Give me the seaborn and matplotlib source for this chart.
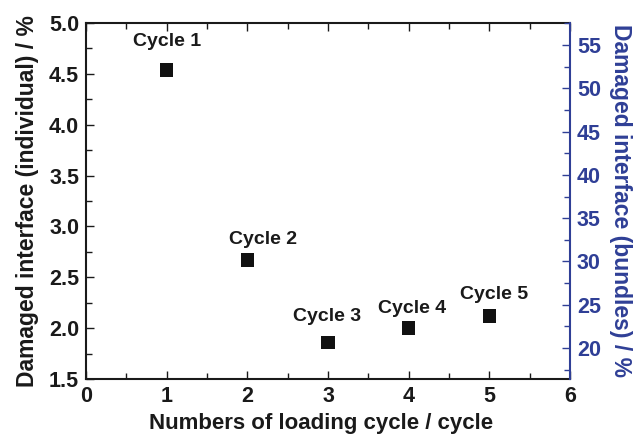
import matplotlib
matplotlib.use("Agg")
import matplotlib.pyplot as plt
from matplotlib.ticker import MultipleLocator, FormatStrFormatter
import seaborn as sns
import pandas as pd

# Data
cycles = [1, 2, 3, 4, 5]
damaged_individual = [4.54, 2.67, 1.86, 2.00, 2.12]
labels = ["Cycle 1", "Cycle 2", "Cycle 3", "Cycle 4", "Cycle 5"]
label_offsets = [(0, 28), (16, 20), (-1, 26), (3, 20), (5, 21)]

df = pd.DataFrame({"cycle": cycles, "individual": damaged_individual, "label": labels})

sns.set_theme(style="ticks")
plt.rcParams["font.family"] = ["Liberation Sans", "DejaVu Sans"]
plt.rcParams["font.weight"] = "bold"

blue = "#2f3f96"
dark = "#1a1a1a"

fig = plt.figure(figsize=(6.4, 4.38), dpi=100)
ax = fig.add_axes([86 / 640, 1 - 379 / 438, (570 - 86) / 640, (379 - 23) / 438])

sns.scatterplot(data=df, x="cycle", y="individual", marker="s", s=95,
                color="#111111", edgecolor="none", ax=ax, zorder=3)

for (x, y, lab, off) in zip(cycles, damaged_individual, labels, label_offsets):
    ax.annotate(lab, (x, y), xytext=off, textcoords="offset pixels",
                ha="center", va="center", fontsize=14, fontweight="bold",
                color=dark)

ax.set_xlim(0, 6)
ax.set_ylim(1.5, 5.0)
ax.xaxis.set_major_locator(MultipleLocator(1))
ax.xaxis.set_minor_locator(MultipleLocator(0.5))
ax.yaxis.set_major_locator(MultipleLocator(0.5))
ax.yaxis.set_minor_locator(MultipleLocator(0.25))
ax.yaxis.set_major_formatter(FormatStrFormatter("%.1f"))

ax.tick_params(axis="both", which="both", direction="in", colors=dark,
               labelsize=15.5, width=1)
ax.tick_params(axis="x", which="both", top=True, labeltop=False)
ax.tick_params(which="major", length=6)
ax.tick_params(which="minor", length=4)
ax.tick_params(axis="x", pad=5)
ax.tick_params(axis="y", pad=5)
for lab in ax.get_xticklabels() + ax.get_yticklabels():
    lab.set_fontweight("bold")

ax.set_xlabel("Numbers of loading cycle / cycle", fontsize=16, fontweight="bold",
              color=dark)
ax.xaxis.set_label_coords(0.486, -0.095)
ax.set_ylabel("Damaged interface (individual) / %", fontsize=16.5, fontweight="bold",
              color=dark, labelpad=7)

for side in ["left", "bottom", "top"]:
    ax.spines[side].set_linewidth(1.5)
    ax.spines[side].set_color(dark)
ax.spines["right"].set_visible(False)

# Secondary axis for bundles
ax2 = ax.twinx()
ax2.set_ylim(16.42, 57.55)
ax2.yaxis.set_major_locator(MultipleLocator(5))
ax2.yaxis.set_minor_locator(MultipleLocator(2.5))
ax2.tick_params(axis="y", which="both", direction="in", colors=blue,
                labelsize=15.5, width=1, pad=5)
ax2.tick_params(which="major", length=6)
ax2.tick_params(which="minor", length=4)
for lab in ax2.get_yticklabels():
    lab.set_fontweight("bold")
ax2.set_ylabel("Damaged interface (bundles) / %", fontsize=16.5, fontweight="bold",
               color=blue, rotation=270, labelpad=22)
for side in ["left", "bottom", "top"]:
    ax2.spines[side].set_visible(False)
ax2.spines["right"].set_linewidth(1.5)
ax2.spines["right"].set_color(blue)

fig.savefig("out.png", dpi=100)
